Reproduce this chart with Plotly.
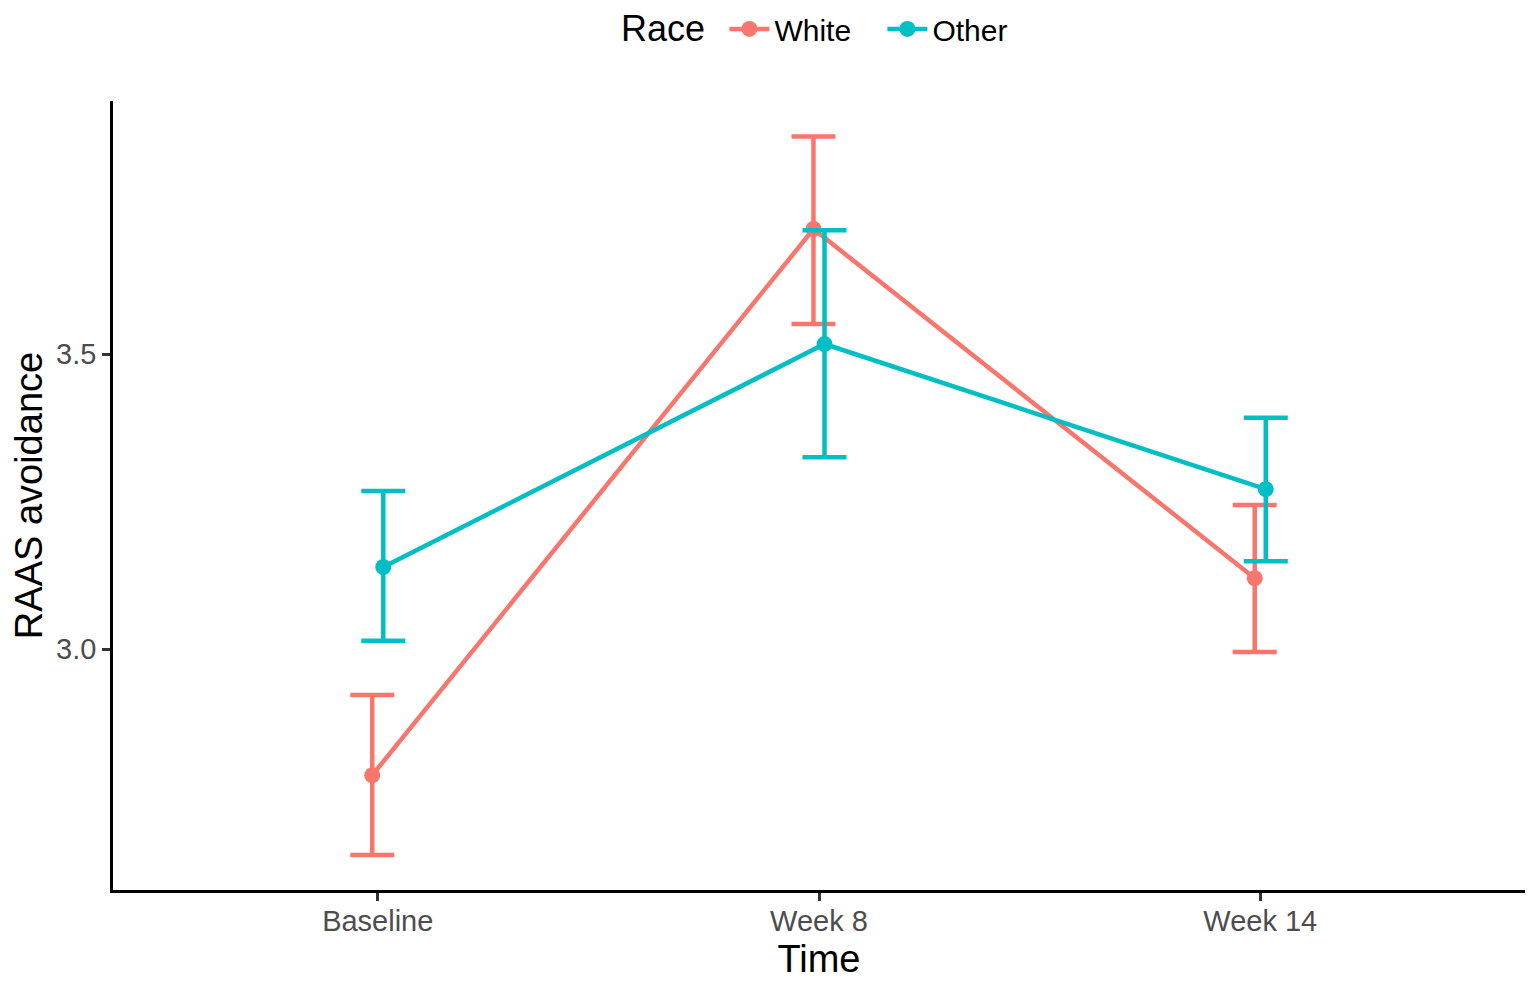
import plotly.graph_objects as go

# data
times = ["Baseline", "Week 8", "Week 14"]
groups = ["White", "Other"]

white_mean = [2.786, 3.712, 3.120]
white_upper = [2.922, 3.869, 3.244]
white_lower = [2.651, 3.551, 2.995]

other_mean = [3.139, 3.517, 3.271]
other_upper = [3.268, 3.710, 3.392]
other_lower = [3.014, 3.325, 3.149]

colors = {"White": "#F8766D", "Other": "#00BFC4"}
dodge = {"White": -0.0125, "Other": 0.0125}

series = {
    "White": (white_mean, white_upper, white_lower),
    "Other": (other_mean, other_upper, other_lower),
}

fig = go.Figure()
for g in groups:
    mean, upper, lower = series[g]
    xs = [i + dodge[g] for i in range(len(times))]
    fig.add_trace(go.Scatter(
        x=xs, y=mean, name=g, mode="lines+markers",
        line=dict(color=colors[g], width=4.5),
        marker=dict(color=colors[g], size=16),
        error_y=dict(type="data", symmetric=False,
                     array=[u - m for u, m in zip(upper, mean)],
                     arrayminus=[m - l for m, l in zip(mean, lower)],
                     color=colors[g], thickness=4.5, width=22),
    ))

# legend title drawn as an annotation so it lines up with the items
fig.add_annotation(text="Race", xref="paper", yref="paper", x=0.3895, y=1.0913,
                   xanchor="center", yanchor="middle", showarrow=False,
                   font=dict(size=36, color="black"))

# page body has an 8px margin, so the margins are shifted to compensate
fig.update_layout(
    width=1536, height=986,
    margin=dict(l=105, r=19, t=93, b=104, autoexpand=False),
    plot_bgcolor="white", paper_bgcolor="white",
    font=dict(family="Liberation Sans, Arial, sans-serif", color="black"),
    legend=dict(orientation="h", x=0.433, xanchor="left", y=1.0913, yanchor="middle",
                font=dict(size=30), itemwidth=40, entrywidth=103),
    showlegend=True,
)
fig.update_xaxes(
    range=[-0.6, 2.6], tickvals=list(range(len(times))), ticktext=times,
    showgrid=False, zeroline=False, showline=True, linecolor="black", linewidth=2.5,
    ticks="outside", ticklen=8, tickwidth=2.5, tickcolor="#333333",
    tickfont=dict(size=29, color="#4D4D4D"), ticklabelstandoff=-5,
    title=dict(text="Time", font=dict(size=38, color="black"), standoff=10),
)
fig.update_yaxes(
    range=[2.5915, 3.929], tickvals=[3.0, 3.5], ticktext=["3.0", "3.5"],
    showgrid=False, zeroline=False, showline=True, linecolor="black", linewidth=2.5,
    ticks="outside", ticklen=8, tickwidth=2.5, tickcolor="#333333",
    tickfont=dict(size=29, color="#4D4D4D"),
    title=dict(text="RAAS avoidance", font=dict(size=38, color="black"), standoff=12),
)

fig.write_html("out.html")
